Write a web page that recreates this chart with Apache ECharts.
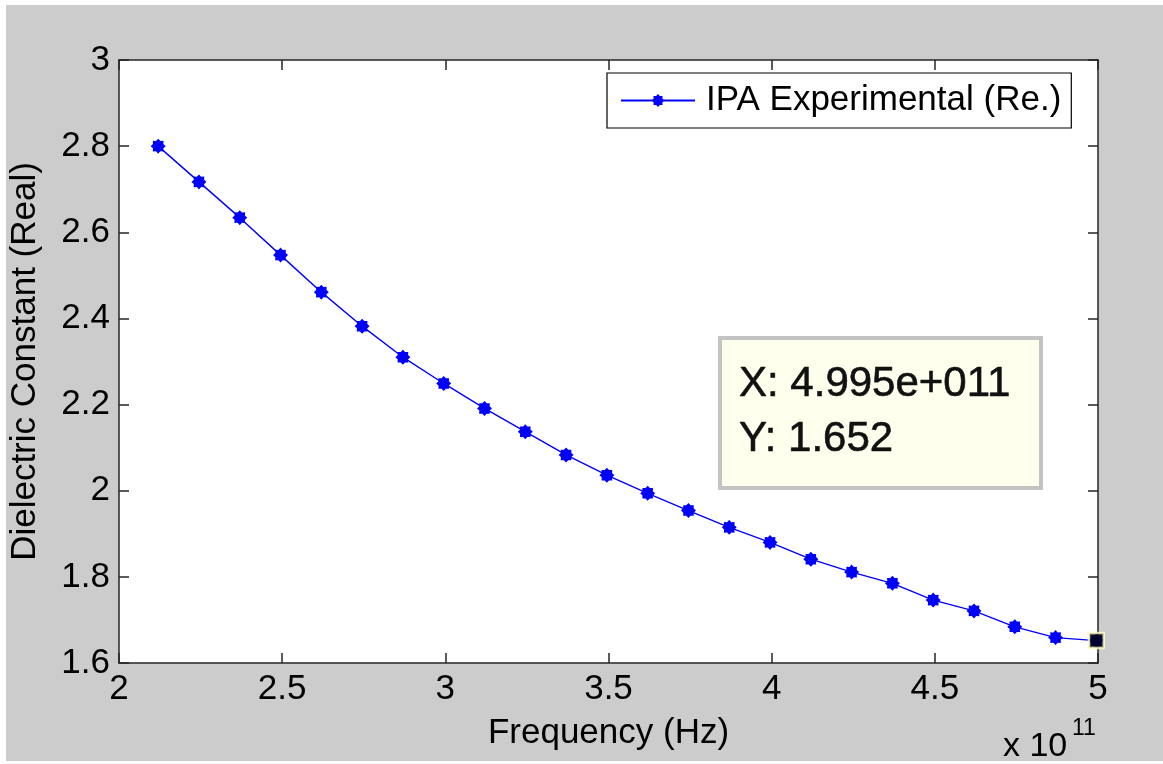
<!DOCTYPE html>
<html><head><meta charset="utf-8">
<script src="https://cdn.jsdelivr.net/npm/echarts@6/dist/echarts.min.js"></script>
<style>html,body{margin:0;padding:0;background:#fff;}#c{width:1163px;height:764px;}</style>
</head><body><div id="c"></div>
<script>
// Frequency in units of 1e11 Hz
const freq = [2.12, 2.245, 2.37, 2.495, 2.62, 2.745, 2.87, 2.995, 3.12, 3.245, 3.37, 3.495,
              3.62, 3.745, 3.87, 3.995, 4.12, 4.245, 4.37, 4.495, 4.62, 4.745, 4.87, 4.995];
const epsReal = [2.800, 2.717, 2.634, 2.547, 2.461, 2.382, 2.310, 2.249, 2.191, 2.137, 2.083, 2.036,
                 1.994, 1.954, 1.915, 1.880, 1.841, 1.811, 1.785, 1.746, 1.721, 1.684, 1.659, 1.652];
const tipX = 4.995, tipY = 1.652;
const seriesName = 'IPA Experimental (Re.)';
const xTitle = 'Frequency (Hz)';
const yTitle = 'Dielectric Constant (Real)';

const FONT = '"Liberation Sans", Arial, sans-serif';
const star = 'path://M100,0 L69.3,-28.7 L70.7,-70.7 L28.7,-69.3 L0,-100 L-28.7,-69.3 L-70.7,-70.7 L-69.3,-28.7 L-100,0 L-69.3,28.7 L-70.7,70.7 L-28.7,69.3 L0,100 L28.7,69.3 L70.7,70.7 L69.3,28.7 Z';

const chart = echarts.init(document.getElementById('c'), null, {renderer: 'canvas'});
const axisCommon = {
  type: 'value',
  axisLine: {show: true, lineStyle: {color: '#262626', width: 1.5}},
  axisTick: {show: true, inside: true, length: 10, lineStyle: {color: '#262626', width: 1.5}},
  splitLine: {show: false},
};
const option = {
  backgroundColor: '#cccccc',
  animation: false,
  grid: {left: 117, top: 60, right: 65, bottom: 101, show: true, backgroundColor: '#ffffff', borderWidth: 0},
  legend: {
    left: 607, top: 73,
    padding: [10, 10, 10, 13],
    itemWidth: 74, itemHeight: 16,
    backgroundColor: '#ffffff', borderColor: '#000000', borderWidth: 1.2, borderRadius: 0,
    textStyle: {fontFamily: FONT, fontSize: 35, color: '#000', padding: [0, 0, 0, 6]},
    data: [seriesName]
  },
  xAxis: [
    Object.assign({}, axisCommon, {
      min: 2, max: 5, interval: 0.5, position: 'bottom',
      axisLabel: {fontFamily: FONT, fontSize: 35, color: '#000', margin: 9},
      name: xTitle, nameLocation: 'middle', nameGap: 53,
      nameTextStyle: {fontFamily: FONT, fontSize: 35, color: '#000'}
    }),
    Object.assign({}, axisCommon, {
      min: 2, max: 5, interval: 0.5, position: 'top', axisLabel: {show: false}
    })
  ],
  yAxis: [
    Object.assign({}, axisCommon, {
      min: 1.6, max: 3, interval: 0.2, position: 'left',
      axisLabel: {fontFamily: FONT, fontSize: 35, color: '#000', margin: 9},
      name: yTitle, nameLocation: 'middle', nameGap: 76,
      nameTextStyle: {fontFamily: FONT, fontSize: 35, color: '#000'}
    }),
    Object.assign({}, axisCommon, {
      min: 1.6, max: 3, interval: 0.2, position: 'right', axisLabel: {show: false}
    })
  ],
  series: [
    {
      name: seriesName, type: 'line',
      xAxisIndex: 0, yAxisIndex: 0,
      data: freq.map((f, i) => [f, epsReal[i]]),
      symbol: star, symbolSize: 15,
      lineStyle: {color: '#0000ff', width: 1.4},
      itemStyle: {color: '#0000ff'},
      z: 3
    },
    {
      name: 'datatip', type: 'scatter',
      xAxisIndex: 0, yAxisIndex: 0,
      data: [[tipX, tipY]],
      symbol: 'rect', symbolSize: 15,
      itemStyle: {color: '#000000', borderColor: '#ffffcc', borderWidth: 2.5},
      z: 5
    }
  ],
  graphic: [
    {type: 'rect', z: 10, shape: {x: 720, y: 338, width: 321, height: 150},
     style: {fill: '#ffffee', stroke: '#c3c3c3', lineWidth: 4}},
    {type: 'text', z: 11, x: 739, y: 384,
     style: {text: 'X: ' + tipX.toFixed(3) + 'e+011', font: '42px ' + FONT, fill: '#111', verticalAlign: 'middle', stroke: '#111', lineWidth: 0.6}},
    {type: 'text', z: 11, x: 739, y: 439,
     style: {text: 'Y: ' + tipY.toFixed(3), font: '42px ' + FONT, fill: '#111', verticalAlign: 'middle', stroke: '#111', lineWidth: 0.6}},
    {type: 'text', z: 11, x: 1003, y: 747,
     style: {text: 'x 10', font: '34px ' + FONT, fill: '#000', verticalAlign: 'middle'}},
    {type: 'text', z: 11, x: 1072, y: 729,
     style: {text: '11', font: '23px ' + FONT, fill: '#000', verticalAlign: 'middle'}},
    {type: 'rect', z: 100, shape: {x: 0, y: 0, width: 1163, height: 5}, style: {fill: '#fff'}},
    {type: 'rect', z: 100, shape: {x: 0, y: 0, width: 6, height: 764}, style: {fill: '#fff'}},
    {type: 'rect', z: 100, shape: {x: 0, y: 761, width: 1163, height: 3}, style: {fill: '#fff'}}
  ]
};
chart.setOption(option);
</script>
</body></html>
